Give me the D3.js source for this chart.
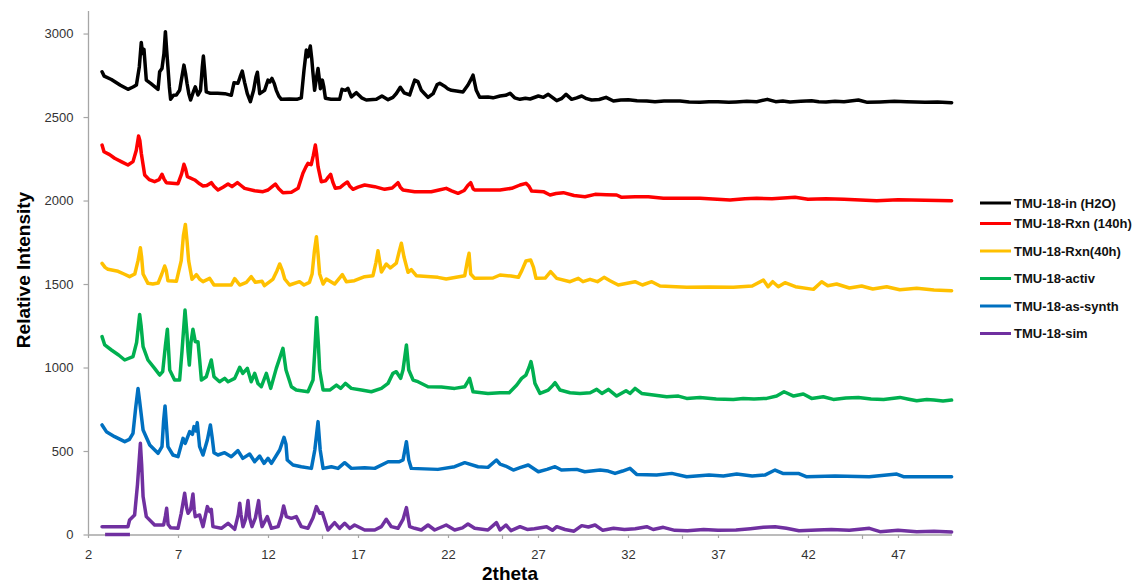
<!DOCTYPE html>
<html>
<head>
<meta charset="utf-8">
<script src="https://cdn.jsdelivr.net/npm/d3@7"></script>
<style>
  html, body { margin: 0; padding: 0; background: #fff; }
  svg { display: block; }
</style>
</head>
<body>
<svg id="chart" width="1148" height="584"></svg>
<script>
// ---------------- DATA ----------------
const seriesNames = ["TMU-18-in (H2O)", "TMU-18-Rxn (140h)", "TMU-18-Rxn(40h)", "TMU-18-activ", "TMU-18-as-synth", "TMU-18-sim"];
const seriesColors = ["#000000", "#FF0000", "#FFC000", "#00B050", "#0070C0", "#7030A0"];
const xTicks = [2, 7, 12, 17, 22, 27, 32, 37, 42, 47];
const xMinorTicks = [15, 25, 35, 45];
const yTicks = [0, 500, 1000, 1500, 2000, 2500, 3000];

const inH2O = [[2.78,2771],[2.9,2745],[3.3,2725],[3.8,2690],[4.22,2666],[4.5,2680],[4.69,2692],[4.85,2800],[4.96,2947],[5.03,2880],[5.11,2905],[5.17,2820],[5.24,2721],[5.5,2700],[5.89,2666],[5.98,2771],[6.11,2791],[6.22,2880],[6.30,3011],[6.37,2900],[6.44,2801],[6.52,2680],[6.59,2606],[6.75,2630],[6.91,2632],[7.09,2660],[7.2,2730],[7.33,2811],[7.42,2760],[7.5,2702],[7.6,2640],[7.70,2602],[7.85,2650],[7.96,2681],[8.11,2632],[8.25,2660],[8.35,2800],[8.41,2865],[8.48,2780],[8.57,2651],[8.8,2642],[9.2,2642],[9.6,2640],[9.96,2630],[10.11,2705],[10.33,2702],[10.45,2740],[10.57,2775],[10.7,2708],[10.85,2640],[11.02,2592],[11.2,2660],[11.33,2740],[11.41,2768],[11.48,2700],[11.54,2640],[11.81,2660],[12.0,2721],[12.1,2710],[12.22,2731],[12.35,2700],[12.46,2660],[12.6,2625],[12.74,2606],[13.2,2608],[13.6,2606],[13.85,2615],[14.0,2781],[14.13,2901],[14.22,2861],[14.35,2925],[14.43,2850],[14.5,2761],[14.59,2660],[14.7,2740],[14.78,2791],[14.85,2730],[14.91,2670],[15.02,2721],[15.1,2680],[15.19,2612],[15.5,2606],[15.98,2606],[16.11,2666],[16.3,2660],[16.44,2672],[16.63,2621],[16.91,2646],[17.2,2615],[17.46,2602],[18.02,2606],[18.33,2626],[18.67,2604],[18.94,2618],[19.13,2641],[19.35,2678],[19.56,2645],[19.87,2632],[20.05,2690],[20.15,2721],[20.33,2712],[20.52,2660],[20.7,2640],[20.89,2618],[21.17,2640],[21.4,2695],[21.54,2702],[21.81,2685],[22.0,2668],[22.19,2660],[22.56,2655],[22.83,2650],[23.11,2692],[23.3,2730],[23.39,2751],[23.57,2660],[23.76,2618],[24.22,2620],[24.5,2615],[24.89,2626],[25.2,2630],[25.45,2642],[25.7,2615],[26.0,2606],[26.3,2612],[26.56,2608],[27.02,2626],[27.3,2618],[27.57,2636],[28.04,2598],[28.3,2610],[28.56,2636],[28.87,2606],[29.15,2615],[29.43,2626],[29.7,2610],[29.98,2602],[30.4,2605],[30.78,2618],[31.19,2596],[31.6,2602],[32.02,2604],[32.5,2597],[33.04,2596],[33.5,2592],[34.0,2596],[34.89,2596],[35.4,2590],[36.0,2588],[36.5,2592],[37.0,2592],[37.6,2588],[38.0,2590],[38.6,2594],[39.15,2592],[39.74,2606],[40.2,2592],[40.6,2596],[41.0,2590],[41.6,2594],[42.2,2598],[42.6,2592],[43.0,2590],[43.5,2594],[44.0,2592],[44.8,2602],[45.3,2588],[46.0,2590],[46.8,2594],[47.48,2592],[48.0,2590],[48.5,2588],[49.2,2590],[49.98,2586]];

const rxn140 = [[2.78,2332],[2.89,2292],[3.2,2275],[3.48,2253],[3.9,2230],[4.22,2213],[4.5,2233],[4.68,2300],[4.81,2386],[4.88,2360],[4.96,2283],[5.15,2153],[5.4,2125],[5.7,2113],[5.95,2125],[6.11,2157],[6.22,2130],[6.35,2107],[7.0,2101],[7.2,2160],[7.33,2217],[7.42,2190],[7.52,2143],[7.93,2123],[8.2,2100],[8.39,2087],[8.6,2090],[8.85,2107],[9.0,2085],[9.22,2063],[9.5,2080],[9.78,2099],[10.0,2083],[10.3,2107],[10.5,2090],[10.7,2073],[11.26,2059],[11.72,2053],[12.0,2063],[12.25,2085],[12.41,2099],[12.6,2070],[12.83,2047],[13.3,2050],[13.67,2073],[13.94,2163],[14.1,2200],[14.22,2223],[14.4,2215],[14.52,2270],[14.63,2332],[14.7,2280],[14.78,2203],[14.96,2113],[15.2,2118],[15.35,2140],[15.48,2157],[15.6,2110],[15.74,2073],[16.0,2078],[16.2,2095],[16.41,2111],[16.55,2085],[16.72,2067],[17.0,2080],[17.37,2093],[17.93,2083],[18.48,2067],[18.9,2075],[19.1,2095],[19.22,2107],[19.35,2080],[19.5,2063],[20.15,2053],[21.07,2053],[21.5,2063],[21.9,2073],[22.2,2058],[22.56,2043],[22.9,2060],[23.1,2090],[23.26,2107],[23.4,2070],[23.48,2063],[24.2,2063],[24.89,2063],[25.54,2073],[26.0,2093],[26.33,2103],[26.5,2085],[26.65,2057],[27.3,2053],[27.67,2033],[28.0,2042],[28.41,2047],[29.0,2030],[29.61,2023],[30.17,2037],[30.8,2035],[31.37,2033],[31.65,2019],[32.4,2023],[33.13,2023],[33.96,2013],[35.0,2013],[36.0,2013],[37.67,2003],[38.5,2010],[39.15,2013],[40.0,2010],[41.28,2019],[42.0,2008],[43.0,2010],[44.0,2007],[45.82,1999],[47.0,2005],[48.5,2002],[49.98,1999]];

const rxn40 = [[2.78,1624],[2.95,1600],[3.11,1588],[3.67,1576],[4.0,1560],[4.31,1544],[4.6,1560],[4.78,1640],[4.91,1717],[4.98,1660],[5.06,1560],[5.33,1504],[5.6,1500],[5.9,1506],[6.1,1560],[6.26,1608],[6.35,1580],[6.44,1520],[6.91,1516],[7.18,1640],[7.3,1790],[7.41,1857],[7.5,1760],[7.59,1640],[7.78,1528],[8.02,1556],[8.2,1530],[8.39,1514],[8.76,1534],[9.0,1494],[9.5,1494],[9.96,1494],[10.15,1532],[10.43,1494],[10.8,1510],[11.07,1544],[11.3,1510],[11.67,1516],[11.8,1490],[12.1,1515],[12.28,1530],[12.5,1580],[12.65,1620],[12.8,1580],[12.93,1530],[13.2,1494],[13.75,1514],[14.0,1494],[14.3,1510],[14.45,1560],[14.58,1700],[14.69,1783],[14.78,1680],[14.87,1560],[15.06,1500],[15.24,1530],[15.7,1500],[16.13,1556],[16.35,1514],[16.8,1520],[17.37,1544],[17.83,1550],[18.0,1630],[18.11,1699],[18.2,1640],[18.3,1572],[18.57,1620],[18.8,1596],[19.13,1625],[19.3,1700],[19.41,1744],[19.56,1660],[19.78,1570],[19.96,1586],[20.24,1550],[21.44,1540],[21.9,1530],[22.93,1550],[23.08,1640],[23.17,1684],[23.26,1560],[23.48,1534],[24.5,1536],[24.89,1554],[25.5,1548],[25.91,1540],[26.1,1580],[26.33,1638],[26.59,1644],[26.75,1600],[26.89,1534],[27.4,1536],[27.7,1574],[28.04,1534],[28.78,1514],[29.24,1534],[29.5,1514],[29.89,1528],[30.3,1514],[30.67,1540],[31.0,1520],[31.46,1494],[32.39,1514],[32.8,1494],[33.32,1514],[33.78,1488],[35.26,1480],[36.5,1482],[37.85,1480],[38.9,1488],[39.52,1524],[39.78,1484],[40.04,1514],[40.35,1484],[40.72,1508],[41.3,1484],[42.3,1468],[42.76,1514],[43.1,1490],[43.59,1500],[44.3,1476],[44.98,1488],[45.6,1470],[46.37,1484],[47.1,1466],[48.04,1474],[49.0,1464],[49.98,1460]];

const activ = [[2.78,1185],[2.93,1135],[3.3,1105],[3.7,1075],[4.04,1045],[4.5,1065],[4.7,1150],[4.87,1318],[4.95,1250],[5.06,1125],[5.33,1045],[5.7,995],[5.98,955],[6.15,975],[6.3,1130],[6.41,1229],[6.48,1100],[6.54,985],[6.81,925],[7.09,925],[7.22,1095],[7.39,1344],[7.5,1200],[7.56,1095],[7.63,1015],[7.72,1150],[7.83,1229],[7.96,1155],[8.11,1155],[8.2,1050],[8.3,925],[8.57,945],[8.85,1045],[9.0,945],[9.31,915],[9.59,935],[9.78,915],[10.15,935],[10.43,1001],[10.6,965],[10.85,995],[11.07,915],[11.26,965],[11.44,905],[11.63,885],[11.91,965],[12.15,875],[12.46,995],[12.6,1040],[12.83,1115],[13.0,985],[13.3,885],[13.57,865],[14.22,855],[14.5,925],[14.6,1100],[14.7,1300],[14.8,1135],[14.87,985],[15.06,865],[15.43,865],[15.8,895],[16.04,875],[16.3,905],[16.63,875],[17.19,865],[17.74,855],[18.3,875],[18.67,905],[18.94,965],[19.13,975],[19.37,935],[19.5,985],[19.69,1135],[19.82,985],[20.06,925],[20.33,915],[20.89,885],[21.63,883],[22.37,875],[22.93,885],[23.1,915],[23.2,935],[23.39,855],[24.22,845],[24.89,849],[25.4,849],[25.82,895],[26.09,935],[26.33,955],[26.5,1000],[26.61,1035],[26.7,990],[26.83,905],[27.11,845],[27.57,865],[27.8,890],[27.95,909],[28.22,865],[28.78,849],[29.33,845],[29.9,849],[30.26,869],[30.55,845],[30.91,869],[31.37,829],[31.89,861],[32.11,845],[32.39,875],[32.76,845],[33.41,835],[34.15,825],[34.8,829],[35.26,815],[36.0,821],[36.9,812],[37.85,809],[38.4,815],[39.0,812],[39.7,815],[40.26,829],[40.67,855],[41.2,829],[41.74,841],[42.2,815],[42.85,825],[43.41,809],[44.1,818],[44.8,821],[45.5,812],[46.2,809],[47.11,821],[47.6,810],[48.04,801],[48.6,808],[49.0,805],[49.5,800],[49.98,805]];

const asSynth = [[2.78,656],[3.02,616],[3.48,586],[4.04,556],[4.3,570],[4.5,606],[4.65,760],[4.78,875],[4.86,805],[5.06,626],[5.43,536],[5.89,486],[6.11,526],[6.2,680],[6.28,770],[6.36,650],[6.44,526],[6.72,476],[7.0,466],[7.28,576],[7.4,546],[7.65,616],[7.8,600],[7.89,646],[8.0,620],[8.07,670],[8.2,526],[8.39,476],[8.63,566],[8.8,656],[8.9,580],[9.0,490],[9.22,476],[9.59,490],[9.96,466],[10.33,502],[10.6,456],[10.98,482],[11.26,436],[11.54,470],[11.78,426],[12.0,456],[12.19,426],[12.65,506],[12.89,582],[13.0,540],[13.07,446],[13.39,416],[13.85,406],[14.41,396],[14.6,506],[14.78,676],[14.9,506],[15.06,396],[15.52,406],[15.89,396],[16.26,430],[16.63,396],[17.37,400],[17.93,396],[18.67,436],[19.3,436],[19.5,446],[19.69,556],[19.82,446],[19.96,396],[21.44,390],[22.37,406],[22.93,430],[23.67,406],[24.22,402],[24.69,446],[24.89,422],[25.2,410],[25.63,386],[26.0,400],[26.46,416],[27.02,376],[27.5,390],[27.95,406],[28.3,386],[29.15,390],[29.6,376],[30.45,386],[30.9,380],[31.28,366],[31.7,380],[32.11,396],[32.48,360],[33.59,356],[34.43,366],[35.26,346],[36.5,356],[37.3,350],[38.04,362],[38.9,350],[39.6,356],[40.17,386],[40.6,366],[41.46,366],[41.9,346],[43.5,350],[45.4,346],[46.93,362],[47.3,346],[49.98,346]];

const sim = [[2.78,47],[3.5,47],[4.22,47],[4.31,87],[4.59,117],[4.75,300],[4.91,546],[4.98,420],[5.06,227],[5.24,107],[5.7,57],[6.2,57],[6.3,110],[6.37,157],[6.45,60],[6.6,40],[7.0,37],[7.18,127],[7.37,247],[7.48,160],[7.56,127],[7.7,150],[7.83,243],[7.9,150],[7.96,107],[8.2,117],[8.39,47],[8.63,167],[8.76,137],[8.85,150],[8.94,47],[9.41,37],[9.78,67],[10.15,31],[10.35,120],[10.43,187],[10.5,120],[10.61,47],[10.75,90],[10.89,203],[10.98,100],[11.11,47],[11.3,100],[11.48,203],[11.56,110],[11.67,47],[11.96,107],[12.19,37],[12.56,47],[12.75,110],[12.87,171],[13.02,107],[13.3,97],[13.57,107],[13.85,47],[14.22,37],[14.5,100],[14.69,167],[14.87,127],[15.02,130],[15.15,87],[15.33,27],[15.7,71],[15.98,37],[16.26,67],[16.54,37],[16.81,57],[17.37,27],[17.93,27],[18.3,47],[18.57,91],[18.85,47],[19.22,37],[19.5,90],[19.69,161],[19.87,47],[20.15,37],[20.52,27],[20.89,57],[21.26,27],[21.9,57],[22.37,27],[22.8,40],[23.11,63],[23.48,37],[24.22,27],[24.69,71],[24.89,27],[25.22,57],[25.5,23],[26.0,47],[26.4,30],[26.8,35],[27.48,47],[27.8,25],[28.04,47],[28.5,30],[29.0,20],[29.43,53],[29.8,45],[30.17,57],[30.6,25],[31.2,37],[31.8,30],[32.4,35],[33.04,47],[33.4,30],[33.96,43],[34.6,25],[35.3,23],[36.2,30],[37.0,25],[38.0,27],[38.8,35],[39.52,43],[40.17,47],[40.8,37],[41.5,23],[42.5,27],[43.3,30],[44.3,25],[45.41,37],[46.0,17],[47.0,25],[48.04,17],[49.0,20],[49.98,15]];

const simBase = [[2.95,0],[4.33,0]];

const allSeries = [inH2O, rxn140, rxn40, activ, asSynth, sim];

// ---------------- LAYOUT ----------------
const svg = d3.select("#chart");
const x = d3.scaleLinear().domain([2, 50]).range([88, 952]);
const y = d3.scaleLinear().domain([0, 3135]).range([534.5, 11]);
const axisColor = "#a6a6a6";
const textColor = "#333333";
const fontFam = "Liberation Sans, Arial, sans-serif";

// Y axis
const yAxis = svg.append("g").attr("transform", "translate(88.5,0)")
  .call(d3.axisLeft(y).tickValues(yTicks).tickSize(5).tickPadding(10).tickFormat(d3.format("d")));
yAxis.select(".domain").attr("stroke", axisColor).attr("stroke-width", 1.3).attr("d", `M0,${y(0)}V${y.range()[1]}`);
yAxis.selectAll(".tick line").attr("stroke", axisColor).attr("stroke-width", 1.2);
yAxis.selectAll(".tick text").attr("fill", textColor).style("font-family", fontFam).style("font-size", "13px");

// X axis
const xAxis = svg.append("g").attr("transform", `translate(0,${y(0) + 0.5})`)
  .call(d3.axisBottom(x).tickValues(xTicks).tickSize(3).tickPadding(12).tickFormat(d3.format("d")));
xAxis.select(".domain").attr("stroke", axisColor).attr("stroke-width", 1.3).attr("d", `M${x(2)},0H${x(50)}`);
xAxis.selectAll(".tick line").attr("stroke", axisColor).attr("stroke-width", 1.2);
xAxis.selectAll(".tick text").attr("fill", textColor).style("font-family", fontFam).style("font-size", "13px");
// minor ticks
svg.append("g").attr("transform", `translate(0,${y(0) + 0.5})`)
  .call(d3.axisBottom(x).tickValues(xMinorTicks).tickSize(4).tickFormat(""))
  .call(g => g.select(".domain").remove())
  .call(g => g.selectAll(".tick line").attr("stroke", axisColor).attr("stroke-width", 1.2));

// Lines
const line = d3.line().x(d => x(d[0])).y(d => y(d[1]));
const gLines = svg.append("g");
gLines.append("path").datum(simBase)
  .attr("d", line).attr("fill", "none").attr("stroke", seriesColors[5]).attr("stroke-width", 3.5);
for (let i = allSeries.length - 1; i >= 0; i--) {
  gLines.append("path").datum(allSeries[i])
    .attr("d", line)
    .attr("fill", "none")
    .attr("stroke", seriesColors[i])
    .attr("stroke-width", 3.5)
    .attr("stroke-linejoin", "round")
    .attr("stroke-linecap", "round");
}

// Axis titles
svg.append("text")
  .attr("x", 510).attr("y", 580)
  .attr("text-anchor", "middle")
  .style("font-family", fontFam)
  .style("font-size", "19px").style("font-weight", "bold")
  .attr("fill", "#000")
  .text("2theta");
svg.append("text")
  .attr("transform", "translate(30,270) rotate(-90)")
  .attr("text-anchor", "middle")
  .style("font-family", fontFam)
  .style("font-size", "19px").style("font-weight", "bold")
  .attr("fill", "#000")
  .text("Relative Intensity");

// Legend
const legendRowY = [203, 223.5, 251, 278.5, 306, 333.5];
const legend = svg.append("g");
seriesNames.forEach((name, i) => {
  const row = legend.append("g").attr("transform", `translate(0,${legendRowY[i]})`);
  row.append("line").attr("x1", 980).attr("x2", 1011).attr("y1", 0).attr("y2", 0)
    .attr("stroke", seriesColors[i]).attr("stroke-width", 3);
  row.append("text").attr("x", 1014).attr("y", 0).attr("dy", "0.36em")
    .style("font-family", fontFam)
    .style("font-size", "13px").style("font-weight", "bold")
    .attr("fill", "#111")
    .text(name);
});
</script>
</body>
</html>
